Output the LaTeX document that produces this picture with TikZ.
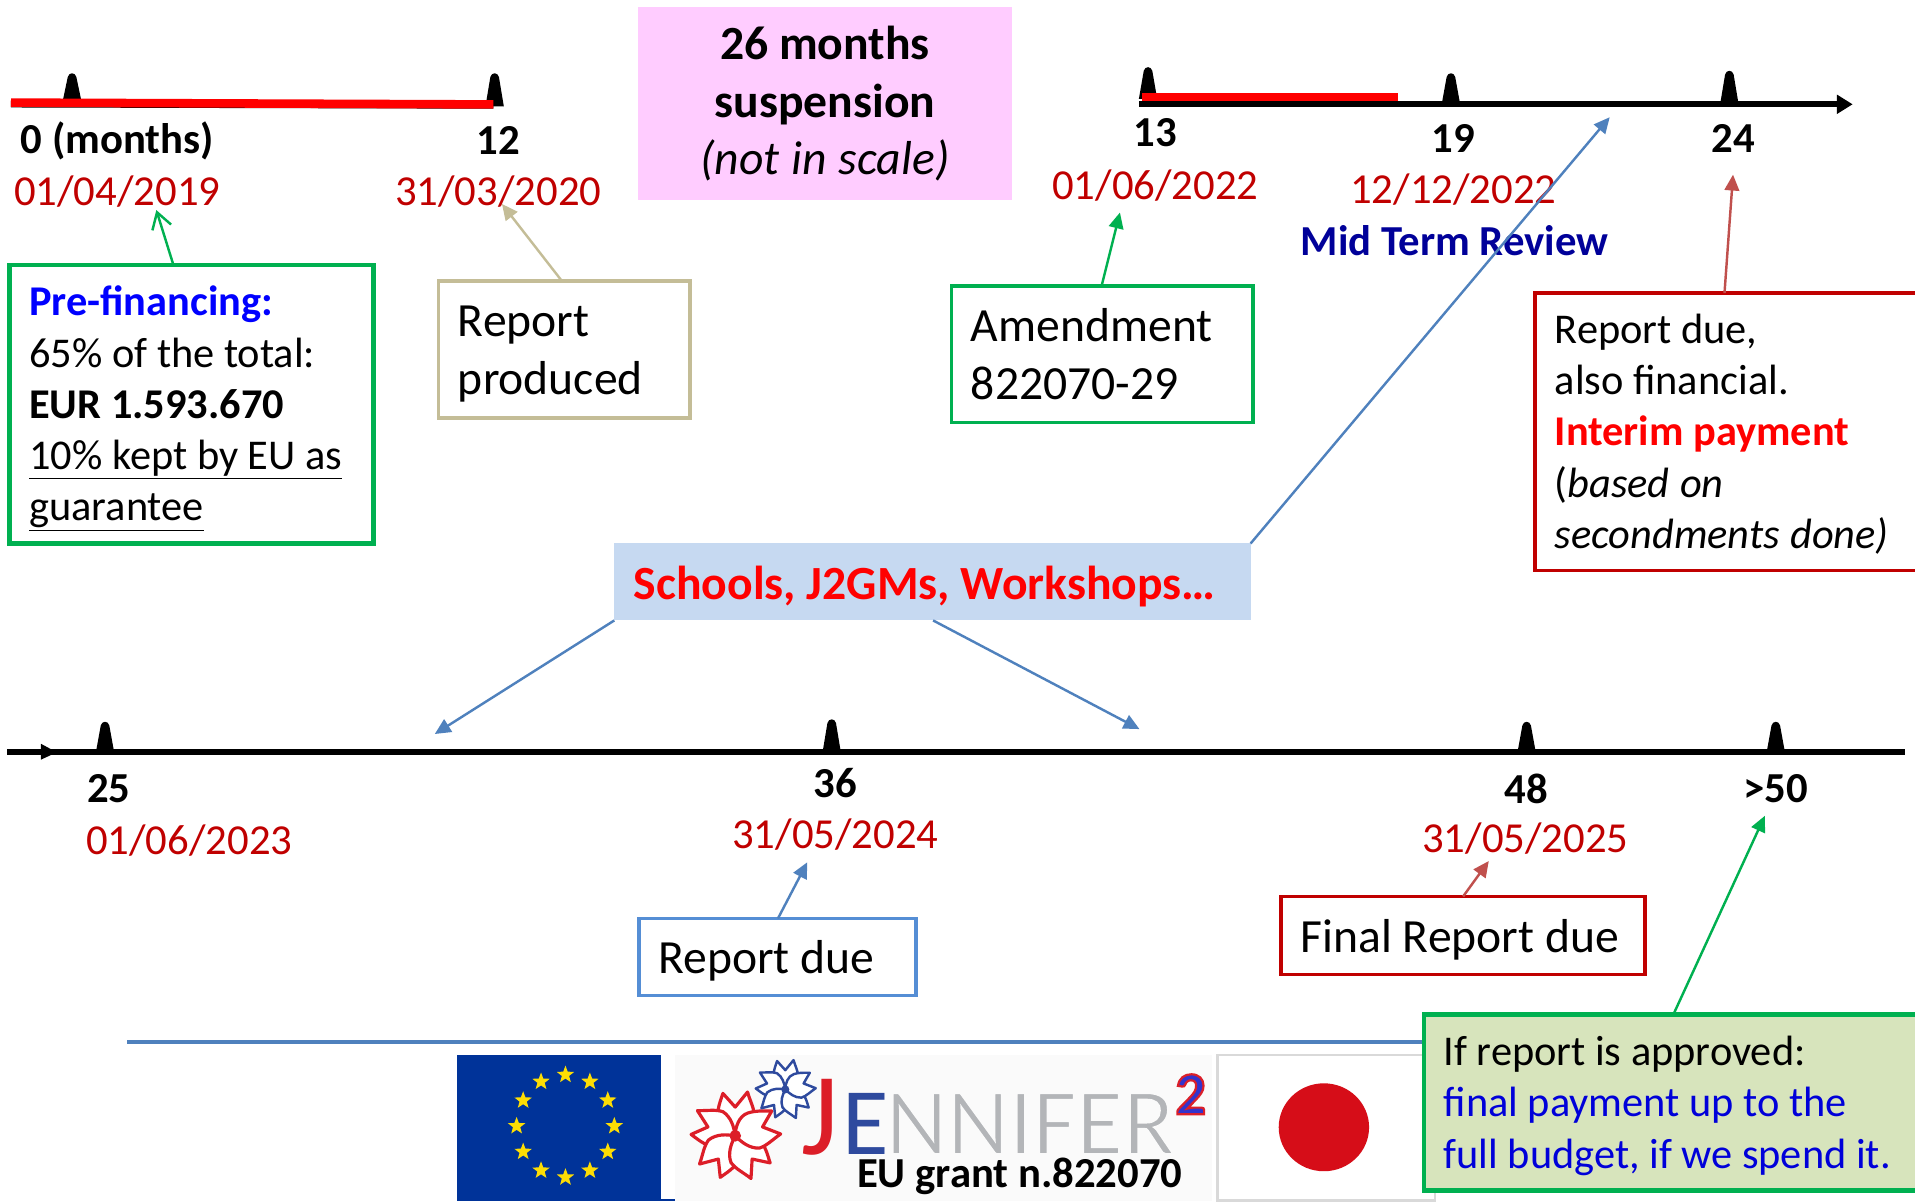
\documentclass[tikz,border=0pt]{standalone}
\usepackage{fontspec}
\setmainfont[BoldFeatures={WordSpace=1}, ItalicFeatures={WordSpace=1.1}]{Carlito}
\usetikzlibrary{arrows.meta}
\usetikzlibrary{shapes.geometric}
\definecolor{dategreen}{HTML}{00B050}
\definecolor{datered}{HTML}{C00000}
\definecolor{arrowred}{HTML}{C0504D}
\definecolor{arrowblue}{HTML}{4F81BD}
\definecolor{duebox}{HTML}{558ED5}
\definecolor{sandbox}{HTML}{C4BD97}
\definecolor{suspfill}{HTML}{FFCCFF}
\definecolor{eventfill}{HTML}{C6D9F1}
\definecolor{budgetfill}{HTML}{D7E4BC}
\definecolor{euflag}{HTML}{003399}
\definecolor{jpred}{HTML}{D60D18}
\definecolor{logored}{HTML}{DC1E28}
\definecolor{logoblue}{HTML}{2E4A9E}
\definecolor{logogrey}{HTML}{B3B5B8}
\tikzset{
 month/.style={font=\fontsize{35}{40}\selectfont\bfseries, inner sep=0},
 date/.style={font=\fontsize{35}{40}\selectfont, text=datered, inner sep=0},
 box/.style={anchor=north west, line width=3pt, outer sep=0, inner ysep=0, inner xsep=16pt, align=flush left, font=\fontsize{34.7}{42}\selectfont},
 bigbox/.style={box, font=\fontsize{39}{47}\selectfont},
 textdown/.style={execute at begin node={\rule{0pt}{#1}}},
 arr/.style={line width=2pt, -{Triangle[length=13pt,width=12pt]}},
 sakura/.pic={
  \foreach \a in {0,72,144,216,288} {
   \draw[pic actions, rotate=\a, fill=white, line join=round] (0,0) .. controls (-6,-2) and (-13,-7) .. (-13,-14)
    .. controls (-13,-20) and (-11,-25) .. (-9,-31) -- (0,-21) -- (9,-32) .. controls (11,-25) and (14,-20) .. (14,-14) .. controls (12,-7) and (6,-3) .. (0,0);
  }
  \fill[pic actions] (0,0) circle (3);
 }
}
\begin{document}
\begin{tikzpicture}[x=1pt, y=-1pt]
\useasboundingbox (0,0) rectangle (1568,984.2);

% top axes
\draw[black, line width=6pt] (9,85) -- (404,86);
\draw[black, line width=5pt] (933,85.4) -- (1500,85.4);
\draw[black, line width=5pt, -{Triangle[length=13pt,width=15pt]}] (1470,85.4) -- (1517,85.4);
\foreach \x/\t/\b in {59/59/82, 405/59/87, 940/54/81, 1188/59/85, 1416/57/85, 86/590/616, 681/588/616, 1250/590/616, 1454/590/616} {
 \fill (\x-7.5,\b) -- (\x-3.5,\t+4) .. controls (\x-2.5,\t) and (\x+2.5,\t) .. (\x+3.5,\t+4) -- (\x+7.5,\b) -- cycle;
}
\draw[red, line width=7pt] (9,84) -- (404,85.5);
\draw[red, line width=7pt] (935,79.5) -- (1145,79.5);

% middle axis
\draw[black, line width=5pt] (6,616) -- (1560,616);
\fill[black] (33.5,609) -- (46.5,616) -- (33.5,622) -- cycle;

% suspension
\node[fill=suspfill, anchor=north west, minimum width=307pt, minimum height=158pt, inner sep=0, outer sep=0, align=center, font=\fontsize{39}{47}\selectfont, textdown=35pt] (susp) at (522,6)
 {\textbf{26 months}\\ \textbf{suspension}\\ \textit{(not in scale)}};

% month labels and dates
\node[month] (m0) at (96,115) {0 (months)};
\node[month] (m12) at (408,115) {12};
\node[month] (m13) at (946,109) {13};
\node[month] (m19) at (1190,113) {19};
\node[month] (m24) at (1419,113) {24};
\node[month] (m25) at (89,646) {25};
\node[month] (m36) at (684,641) {36};
\node[month] (m48) at (1250,646) {48};
\node[month] (m50) at (1454,646) {>50};
\node[date] (d0) at (96,157) {01/04/2019};
\node[date] (d12) at (408,157) {31/03/2020};
\node[date] (d13) at (946,152) {01/06/2022};
\node[date] (d19) at (1190,155) {12/12/2022};
\node[date] (d25) at (155,688) {01/06/2023};
\node[date] (d36) at (684,683) {31/05/2024};
\node[date] (d48) at (1249,687) {31/05/2025};
\node[month, text=blue!60!black] (mtr) at (1191,197) {Mid Term Review};

% boxes
\node[box, draw=dategreen, line width=4pt, text width=266pt, minimum height=228pt, textdown=31pt] (prefin) at (8,217)
 {\textcolor{blue}{\textbf{Pre-financing:}}\\ 65\% of the total:\\ \textbf{EUR 1.593.670}\\ \underline{10\% kept by EU as}\\ \underline{guarantee}};
\node[bigbox, draw=sandbox, text width=174pt, minimum height=112pt, textdown=33pt] (produced) at (359,230) {Report\\ produced};
\node[bigbox, draw=dategreen, text width=215pt, minimum height=112pt] (amend) at (779,234) {Amendment\\ 822070-29};
\node[box, draw=datered, text width=285pt, minimum height=227pt, textdown=28pt] (interim) at (1257,240)
 {Report due,\\ also financial.\\ \textcolor{red}{\textbf{Interim payment}}\\ (\textit{based on}\\ \textit{secondments done)}};
\node[box, fill=eventfill, line width=0pt, text width=489pt, minimum height=63pt, text=red, font=\fontsize{39}{42}\selectfont\bfseries, textdown=35pt] (events) at (503,445) {Schools, J2GMs, Workshops\dots};
\node[bigbox, draw=duebox, text width=195pt, minimum height=63pt, textdown=34pt] (due) at (523,752) {Report due};
\node[bigbox, draw=datered, text width=266pt, minimum height=64pt, textdown=34pt] (final) at (1049,734) {Final Report due};

% connectors
\coordinate (toPre) at (128,172);
\coordinate (toProd) at (411,167);
\coordinate (toAm) at (917,174);
\coordinate (toInt) at (1419,143);
\coordinate (toDue) at (661,706);
\coordinate (toFin) at (1219,705);
\coordinate (toBudget) at (1445,668);
\coordinate (toTop) at (1318,96);
\coordinate (toLeft) at (356,601);
\coordinate (toRight) at (933,597);
\draw[dategreen, line width=2pt, -{Straight Barb[length=13pt,width=16pt]}] (142,0 |- prefin.north) -- (toPre);
\draw[sandbox, arr] (460,0 |- produced.north) -- (toProd);
\draw[dategreen, arr] (902,0 |- amend.north) -- (toAm);
\draw[arrowred, arr] (1412,0 |- interim.north) -- (toInt);
\draw[arrowblue, arr] (637,0 |- due.north) -- (toDue);
\draw[arrowred, arr] (1198,0 |- final.north) -- (toFin);
\draw[arrowblue, arr] (events.north east) -- (toTop);
\draw[arrowblue, arr] (events.south west) -- (toLeft);
\draw[arrowblue, arr] (764,0 |- events.south) -- (toRight);

% footer
\fill[black!2] (553,864) rectangle (992,983);
\coordinate (ruleL) at (104,853);
\draw[arrowblue, line width=3pt] (ruleL) -- (1170,853);

% eu flag
\fill[euflag] (374,864) rectangle (541,983);
\draw[euflag, line width=1pt] (541,982.5) -- (553,982.5);
\foreach \a in {0,30,...,330} {
 \node[star, star points=5, star point ratio=2.4, fill=yellow!80!orange, inner sep=0, minimum size=15pt] (star\a) at ({463+40*cos(\a)},{922+42*sin(\a)}) {};
}

% logo
\pic[draw=logored, fill=logored, line width=2.6pt, scale=1.12] at (602,930) {sakura};
\pic[draw=logoblue, fill=logoblue, line width=2pt, scale=.75] at (643,892) {sakura};
\node[anchor=base west, inner sep=0, text=logored, font=\fontsize{96}{96}\selectfont] (logoJ) at (656,945) {J};
\node[anchor=base west, inner sep=0, text=logoblue, font=\fontsize{78}{78}\selectfont] (logoE) at (690,945) {E};
\node[anchor=base west, inner sep=0, text=logogrey, font=\fontsize{78}{78}\selectfont] (logoN) at (725,945)
 {\special{pdf:code 2 Tr 1.6 w 0.98 0.98 0.98 RG}NNIFER\special{pdf:code 0 Tr}};
\node[inner sep=0, font=\fontsize{50}{50}\selectfont\bfseries] (logo2) at (975,896)
 {\special{pdf:code 2 Tr 1.8 w 0.86 0.12 0.16 RG 0.2 0.2 0.8 rg}2\special{pdf:code 0 Tr}};
\node[inner sep=0, font=\fontsize{35}{40}\selectfont\bfseries] (grant) at (835,963) {EU grant n.822070};

% japan flag
\draw[black!15, line width=2pt, fill=white] (997,864) rectangle (1175,983);
\fill[jpred] (1084,923) ellipse (37 and 36);

% last box
\node[box, fill=budgetfill, draw=dategreen, line width=4pt, text width=382pt, minimum height=144pt, textdown=29pt] (budget) at (1166,831)
 {If report is approved:\\ \textcolor{blue!85!black}{final payment up to the}\\ \textcolor{blue!85!black}{full budget, if we spend it.}};
\draw[dategreen, arr] (1370,0 |- budget.north) -- (toBudget);
\end{tikzpicture}
\end{document}
